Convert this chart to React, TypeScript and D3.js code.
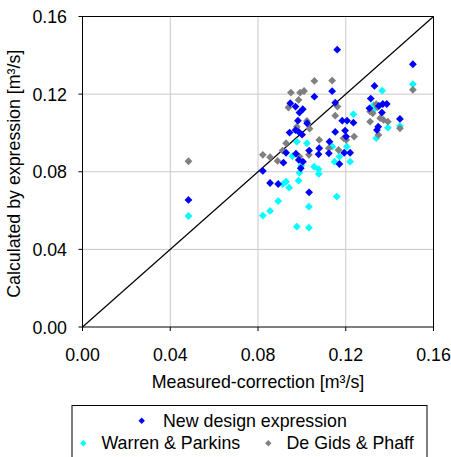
import React from "react";
import * as d3 from "d3";

const xTicks = [0, 0.04, 0.08, 0.12, 0.16];
const yTicks = [0, 0.04, 0.08, 0.12, 0.16];

const newX = [0.0483,0.0822,0.0855,0.0892,0.0916,0.0928,0.0944,0.0947,0.0971,0.0971,0.0973,0.0982,0.0986,0.0986,0.0989,0.0995,0.1001,0.1004,0.1005,0.1024,0.1033,0.1033,0.1057,0.1076,0.1079,0.1123,0.1126,0.1138,0.1152,0.1152,0.1161,0.1171,0.1184,0.1193,0.1197,0.1202,0.1206,0.1220,0.1235,0.1308,0.1314,0.1331,0.1342,0.1348,0.1351,0.1365,0.1369,0.1387,0.1447,0.1506];
const newY = [0.0655,0.0804,0.0742,0.0737,0.0847,0.0898,0.1002,0.1153,0.1136,0.1015,0.0893,0.1063,0.1005,0.0861,0.1105,0.0818,0.0991,0.1122,0.0852,0.1050,0.0909,0.0694,0.1187,0.0890,0.0921,0.0895,0.0955,0.1215,0.1156,0.1005,0.1429,0.0840,0.1063,0.0898,0.1012,0.0981,0.1063,0.0898,0.1053,0.1127,0.1177,0.1242,0.1015,0.1032,0.1139,0.1105,0.1149,0.1149,0.1072,0.1354];

const wpX = [0.0483,0.0822,0.0855,0.0892,0.0913,0.0928,0.0942,0.0957,0.0977,0.0977,0.0985,0.0989,0.0997,0.1023,0.1032,0.1032,0.1056,0.1076,0.1077,0.1139,0.1149,0.1159,0.1171,0.1205,0.1220,0.1235,0.1326,0.1330,0.1339,0.1366,0.1392,0.1447,0.1506];
const wpY = [0.0572,0.0574,0.0598,0.0649,0.0736,0.0749,0.0718,0.0881,0.0955,0.0517,0.0754,0.0795,0.0831,0.0947,0.0620,0.0512,0.0826,0.0813,0.0789,0.0929,0.0852,0.0672,0.0878,0.0929,0.0852,0.1096,0.1143,0.1122,0.0973,0.1218,0.1027,0.1036,0.1251];

const gpX = [0.0483,0.0822,0.0855,0.0889,0.0912,0.0928,0.0939,0.0950,0.0977,0.0985,0.0989,0.0992,0.1010,0.1023,0.1032,0.1035,0.1057,0.1079,0.1123,0.1138,0.1152,0.1162,0.1167,0.1190,0.1202,0.1238,0.1311,0.1323,0.1311,0.1339,0.1345,0.1349,0.1357,0.1372,0.1392,0.1447,0.1506];
const gpY = [0.0854,0.0887,0.0875,0.0856,0.0909,0.0947,0.1131,0.1208,0.1032,0.1170,0.0878,0.1208,0.1216,0.1062,0.0887,0.1022,0.1268,0.0964,0.0921,0.1270,0.1089,0.1136,0.0912,0.0973,0.0964,0.0981,0.1110,0.1101,0.1058,0.1148,0.1133,0.0990,0.1076,0.1067,0.1058,0.1024,0.1222];

const seriesNames = ["New design expression", "Warren & Parkins", "De Gids & Phaff"];
const seriesColors = ["#0000ff", "#00ffff", "#808080"];

const W = 451, H = 457;
const L = 82.5, R = 433.5, T = 16.5, B = 327;
const FONT = "'Liberation Sans', Arial, sans-serif";
const FS = 17.8;

function diamond(cx: number, cy: number, r: number) {
  return `M${cx},${cy - r}L${cx + r},${cy}L${cx},${cy + r}L${cx - r},${cy}Z`;
}

export default function App() {
  const x = d3.scaleLinear().domain([0, 0.16]).range([L, R]);
  const y = d3.scaleLinear().domain([0, 0.16]).range([B, T]);
  const fmt = d3.format(".2f");

  const drawOrder = [
    { xs: wpX, ys: wpY, c: seriesColors[1] },
    { xs: gpX, ys: gpY, c: seriesColors[2] },
    { xs: newX, ys: newY, c: seriesColors[0] },
  ];

  return (
    <svg width={W} height={H} style={{ position: "absolute", left: 0, top: 0 }} fontFamily={FONT}>
      <rect x={0} y={0} width={W} height={H} fill="#fff" />
      {xTicks.slice(1, -1).map((t) => (
        <line key={"gx" + t} x1={x(t)} x2={x(t)} y1={T} y2={B} stroke="#c8c8c8" strokeWidth={1} />
      ))}
      {yTicks.slice(1, -1).map((t) => (
        <line key={"gy" + t} x1={L} x2={R} y1={y(t)} y2={y(t)} stroke="#c8c8c8" strokeWidth={1} />
      ))}
      <line x1={x(0)} y1={y(0)} x2={x(0.16)} y2={y(0.16)} stroke="#000" strokeWidth={1.2} />
      {drawOrder.map((s, si) =>
        s.xs.map((v, i) => (
          <path key={si + "-" + i} d={diamond(x(v), y(s.ys[i]), 3.9)} fill={s.c} />
        ))
      )}
      <rect x={L} y={T} width={R - L} height={B - T} fill="none" stroke="#000" strokeWidth={1} />
      {xTicks.map((t) => (
        <g key={"xt" + t}>
          <line x1={x(t)} x2={x(t)} y1={B} y2={B + 4} stroke="#000" />
          <text x={x(t)} y={361} textAnchor="middle" fontSize={FS}>{fmt(t)}</text>
        </g>
      ))}
      {yTicks.map((t) => (
        <g key={"yt" + t}>
          <line x1={L - 4} x2={L} y1={y(t)} y2={y(t)} stroke="#000" />
          <text x={67} y={y(t) + 6.5} textAnchor="end" fontSize={FS}>{fmt(t)}</text>
        </g>
      ))}
      <text x={(L + R) / 2} y={388} textAnchor="middle" fontSize={FS}>Measured-correction [m³/s]</text>
      <text transform={`translate(20,${(T + B) / 2 + 2}) rotate(-90)`} textAnchor="middle" fontSize={FS}>
        Calculated by expression [m³/s]
      </text>
      <rect x={72} y={405.5} width={355} height={60} fill="#fff" stroke="#000" strokeWidth={1} />
      <path d={diamond(141.7, 420.7, 3.2)} fill={seriesColors[0]} />
      <text x={163} y={427} fontSize={FS}>{seriesNames[0]}</text>
      <path d={diamond(83.3, 443.3, 3.2)} fill={seriesColors[1]} />
      <text x={101.5} y={448.5} fontSize={FS}>{seriesNames[1]}</text>
      <path d={diamond(268.3, 443.3, 3.2)} fill={seriesColors[2]} />
      <text x={286.5} y={448.5} fontSize={FS}>{seriesNames[2]}</text>
    </svg>
  );
}
